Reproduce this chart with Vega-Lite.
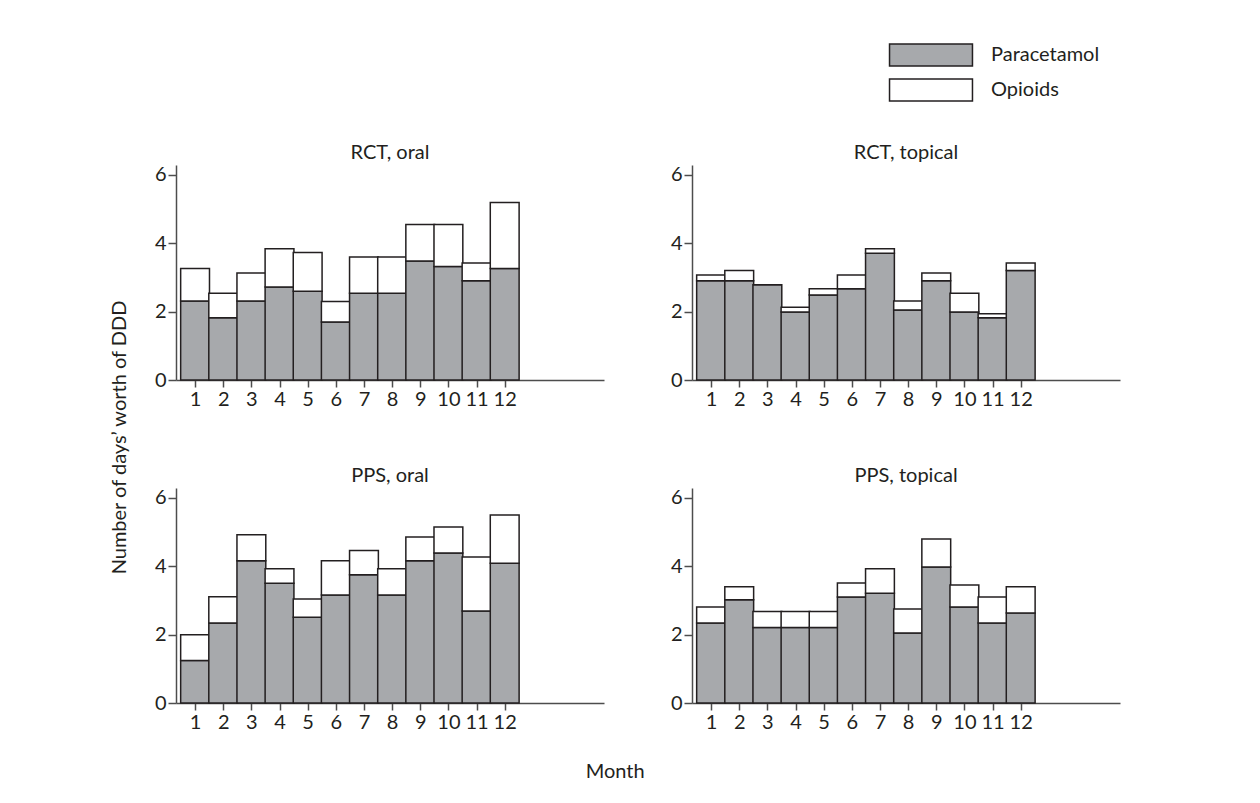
{
  "$schema": "https://vega.github.io/schema/vega-lite/v6.json",
  "padding": {"left": 110, "top": 43, "right": 5, "bottom": 5},
  "background": "white",
  "config": {
    "font": "Lato",
    "view": {"stroke": null},
    "axis": {"grid": false, "domainColor": "#4d4d4d", "domainWidth": 1.5, "tickColor": "#4d4d4d", "tickWidth": 1.5, "tickSize": 8, "labelFont": "Lato", "labelFontSize": 20, "labelColor": "#231f20", "labelPadding": 2},
    "header": {"labelFont": "Lato", "labelFontSize": 20, "labelColor": "#231f20"},
    "title": {"font": "Lato", "fontSize": 20, "fontWeight": "normal", "color": "#231f20"},
    "legend": {"labelFont": "Lato", "labelFontSize": 20, "labelColor": "#231f20"}
  },
  "title": {"text": "Month", "orient": "bottom", "anchor": "middle", "offset": 30},
  "data": {
    "values": [
      {"panel": "RCT, oral", "month": 1, "drug": "Paracetamol", "value": 2.31},
      {"panel": "RCT, oral", "month": 1, "drug": "Opioids", "value": 0.95},
      {"panel": "RCT, oral", "month": 2, "drug": "Paracetamol", "value": 1.82},
      {"panel": "RCT, oral", "month": 2, "drug": "Opioids", "value": 0.72},
      {"panel": "RCT, oral", "month": 3, "drug": "Paracetamol", "value": 2.31},
      {"panel": "RCT, oral", "month": 3, "drug": "Opioids", "value": 0.82},
      {"panel": "RCT, oral", "month": 4, "drug": "Paracetamol", "value": 2.72},
      {"panel": "RCT, oral", "month": 4, "drug": "Opioids", "value": 1.12},
      {"panel": "RCT, oral", "month": 5, "drug": "Paracetamol", "value": 2.60},
      {"panel": "RCT, oral", "month": 5, "drug": "Opioids", "value": 1.13},
      {"panel": "RCT, oral", "month": 6, "drug": "Paracetamol", "value": 1.70},
      {"panel": "RCT, oral", "month": 6, "drug": "Opioids", "value": 0.60},
      {"panel": "RCT, oral", "month": 7, "drug": "Paracetamol", "value": 2.54},
      {"panel": "RCT, oral", "month": 7, "drug": "Opioids", "value": 1.06},
      {"panel": "RCT, oral", "month": 8, "drug": "Paracetamol", "value": 2.54},
      {"panel": "RCT, oral", "month": 8, "drug": "Opioids", "value": 1.06},
      {"panel": "RCT, oral", "month": 9, "drug": "Paracetamol", "value": 3.48},
      {"panel": "RCT, oral", "month": 9, "drug": "Opioids", "value": 1.07},
      {"panel": "RCT, oral", "month": 10, "drug": "Paracetamol", "value": 3.32},
      {"panel": "RCT, oral", "month": 10, "drug": "Opioids", "value": 1.23},
      {"panel": "RCT, oral", "month": 11, "drug": "Paracetamol", "value": 2.90},
      {"panel": "RCT, oral", "month": 11, "drug": "Opioids", "value": 0.52},
      {"panel": "RCT, oral", "month": 12, "drug": "Paracetamol", "value": 3.26},
      {"panel": "RCT, oral", "month": 12, "drug": "Opioids", "value": 1.93},
      {"panel": "RCT, topical", "month": 1, "drug": "Paracetamol", "value": 2.90},
      {"panel": "RCT, topical", "month": 1, "drug": "Opioids", "value": 0.17},
      {"panel": "RCT, topical", "month": 2, "drug": "Paracetamol", "value": 2.90},
      {"panel": "RCT, topical", "month": 2, "drug": "Opioids", "value": 0.30},
      {"panel": "RCT, topical", "month": 3, "drug": "Paracetamol", "value": 2.79},
      {"panel": "RCT, topical", "month": 3, "drug": "Opioids", "value": 0.0},
      {"panel": "RCT, topical", "month": 4, "drug": "Paracetamol", "value": 1.99},
      {"panel": "RCT, topical", "month": 4, "drug": "Opioids", "value": 0.14},
      {"panel": "RCT, topical", "month": 5, "drug": "Paracetamol", "value": 2.49},
      {"panel": "RCT, topical", "month": 5, "drug": "Opioids", "value": 0.18},
      {"panel": "RCT, topical", "month": 6, "drug": "Paracetamol", "value": 2.67},
      {"panel": "RCT, topical", "month": 6, "drug": "Opioids", "value": 0.40},
      {"panel": "RCT, topical", "month": 7, "drug": "Paracetamol", "value": 3.71},
      {"panel": "RCT, topical", "month": 7, "drug": "Opioids", "value": 0.13},
      {"panel": "RCT, topical", "month": 8, "drug": "Paracetamol", "value": 2.05},
      {"panel": "RCT, topical", "month": 8, "drug": "Opioids", "value": 0.26},
      {"panel": "RCT, topical", "month": 9, "drug": "Paracetamol", "value": 2.90},
      {"panel": "RCT, topical", "month": 9, "drug": "Opioids", "value": 0.23},
      {"panel": "RCT, topical", "month": 10, "drug": "Paracetamol", "value": 1.99},
      {"panel": "RCT, topical", "month": 10, "drug": "Opioids", "value": 0.55},
      {"panel": "RCT, topical", "month": 11, "drug": "Paracetamol", "value": 1.82},
      {"panel": "RCT, topical", "month": 11, "drug": "Opioids", "value": 0.12},
      {"panel": "RCT, topical", "month": 12, "drug": "Paracetamol", "value": 3.20},
      {"panel": "RCT, topical", "month": 12, "drug": "Opioids", "value": 0.22},
      {"panel": "PPS, oral", "month": 1, "drug": "Paracetamol", "value": 1.24},
      {"panel": "PPS, oral", "month": 1, "drug": "Opioids", "value": 0.76},
      {"panel": "PPS, oral", "month": 2, "drug": "Paracetamol", "value": 2.34},
      {"panel": "PPS, oral", "month": 2, "drug": "Opioids", "value": 0.77},
      {"panel": "PPS, oral", "month": 3, "drug": "Paracetamol", "value": 4.16},
      {"panel": "PPS, oral", "month": 3, "drug": "Opioids", "value": 0.76},
      {"panel": "PPS, oral", "month": 4, "drug": "Paracetamol", "value": 3.50},
      {"panel": "PPS, oral", "month": 4, "drug": "Opioids", "value": 0.43},
      {"panel": "PPS, oral", "month": 5, "drug": "Paracetamol", "value": 2.51},
      {"panel": "PPS, oral", "month": 5, "drug": "Opioids", "value": 0.53},
      {"panel": "PPS, oral", "month": 6, "drug": "Paracetamol", "value": 3.16},
      {"panel": "PPS, oral", "month": 6, "drug": "Opioids", "value": 1.00},
      {"panel": "PPS, oral", "month": 7, "drug": "Paracetamol", "value": 3.75},
      {"panel": "PPS, oral", "month": 7, "drug": "Opioids", "value": 0.71},
      {"panel": "PPS, oral", "month": 8, "drug": "Paracetamol", "value": 3.16},
      {"panel": "PPS, oral", "month": 8, "drug": "Opioids", "value": 0.77},
      {"panel": "PPS, oral", "month": 9, "drug": "Paracetamol", "value": 4.16},
      {"panel": "PPS, oral", "month": 9, "drug": "Opioids", "value": 0.70},
      {"panel": "PPS, oral", "month": 10, "drug": "Paracetamol", "value": 4.39},
      {"panel": "PPS, oral", "month": 10, "drug": "Opioids", "value": 0.76},
      {"panel": "PPS, oral", "month": 11, "drug": "Paracetamol", "value": 2.69},
      {"panel": "PPS, oral", "month": 11, "drug": "Opioids", "value": 1.58},
      {"panel": "PPS, oral", "month": 12, "drug": "Paracetamol", "value": 4.09},
      {"panel": "PPS, oral", "month": 12, "drug": "Opioids", "value": 1.41},
      {"panel": "PPS, topical", "month": 1, "drug": "Paracetamol", "value": 2.34},
      {"panel": "PPS, topical", "month": 1, "drug": "Opioids", "value": 0.47},
      {"panel": "PPS, topical", "month": 2, "drug": "Paracetamol", "value": 3.02},
      {"panel": "PPS, topical", "month": 2, "drug": "Opioids", "value": 0.38},
      {"panel": "PPS, topical", "month": 3, "drug": "Paracetamol", "value": 2.21},
      {"panel": "PPS, topical", "month": 3, "drug": "Opioids", "value": 0.47},
      {"panel": "PPS, topical", "month": 4, "drug": "Paracetamol", "value": 2.21},
      {"panel": "PPS, topical", "month": 4, "drug": "Opioids", "value": 0.47},
      {"panel": "PPS, topical", "month": 5, "drug": "Paracetamol", "value": 2.21},
      {"panel": "PPS, topical", "month": 5, "drug": "Opioids", "value": 0.47},
      {"panel": "PPS, topical", "month": 6, "drug": "Paracetamol", "value": 3.10},
      {"panel": "PPS, topical", "month": 6, "drug": "Opioids", "value": 0.41},
      {"panel": "PPS, topical", "month": 7, "drug": "Paracetamol", "value": 3.21},
      {"panel": "PPS, topical", "month": 7, "drug": "Opioids", "value": 0.72},
      {"panel": "PPS, topical", "month": 8, "drug": "Paracetamol", "value": 2.05},
      {"panel": "PPS, topical", "month": 8, "drug": "Opioids", "value": 0.70},
      {"panel": "PPS, topical", "month": 9, "drug": "Paracetamol", "value": 3.98},
      {"panel": "PPS, topical", "month": 9, "drug": "Opioids", "value": 0.82},
      {"panel": "PPS, topical", "month": 10, "drug": "Paracetamol", "value": 2.81},
      {"panel": "PPS, topical", "month": 10, "drug": "Opioids", "value": 0.64},
      {"panel": "PPS, topical", "month": 11, "drug": "Paracetamol", "value": 2.34},
      {"panel": "PPS, topical", "month": 11, "drug": "Opioids", "value": 0.76},
      {"panel": "PPS, topical", "month": 12, "drug": "Paracetamol", "value": 2.63},
      {"panel": "PPS, topical", "month": 12, "drug": "Opioids", "value": 0.77}
    ]
  },
  "vconcat": [
    {
      "title": {"text": "Number of days\u2019 worth of DDD", "orient": "left", "anchor": "middle", "offset": 24},
      "facet": {"field": "panel", "type": "nominal", "sort": ["RCT, oral", "RCT, topical", "PPS, oral", "PPS, topical"], "header": {"title": null, "labelPadding": 2}},
      "columns": 2,
      "spacing": {"row": 56, "column": 66},
      "resolve": {"axis": {"x": "independent", "y": "independent"}},
      "spec": {
        "width": 428,
        "height": 215,
        "mark": {"type": "bar", "width": 28.83, "stroke": "#231f20", "strokeWidth": 1.5},
        "encoding": {
          "x": {"field": "month", "type": "quantitative", "scale": {"domain": [0.5, 15.35], "nice": false, "zero": false}, "axis": {"title": null, "values": [1,2,3,4,5,6,7,8,9,10,11,12], "labelFlush": false, "tickSize": 7}},
          "y": {"field": "value", "type": "quantitative", "stack": "zero", "scale": {"domain": [0, 6.29], "nice": false}, "axis": {"title": null, "values": [0, 2, 4, 6]}},
          "color": {"field": "drug", "type": "nominal", "scale": {"domain": ["Paracetamol", "Opioids"], "range": ["#a7a9ac", "#ffffff"]}, "legend": {"title": null, "orient": "none", "legendX": 743, "legendY": -122, "symbolType": "M-3.77,-1H3.77V1H-3.77Z", "symbolSize": 484, "symbolStrokeColor": "#231f20", "symbolStrokeWidth": 1.5, "rowPadding": 7, "labelOffset": 48}},
          "order": {"field": "drug", "sort": "descending"}
        }
      }
    }
  ]
}
